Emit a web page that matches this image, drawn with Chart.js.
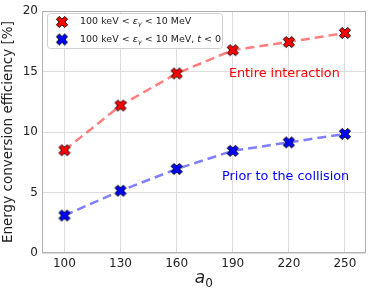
<!DOCTYPE html>
<html>
<head>
<meta charset="utf-8">
<script src="https://cdn.jsdelivr.net/npm/chart.js@4"></script>
<style>
html,body{margin:0;padding:0;background:#fff;}
#wrap{width:374px;height:291px;}
</style>
</head>
<body>
<div id="wrap"><canvas id="c" width="374" height="291"></canvas></div>
<script>
const a0 = [100, 130, 160, 190, 220, 250];
const entireInteraction = [8.5, 12.2, 14.85, 16.78, 17.45, 18.2];
const priorToCollision = [3.1, 5.15, 6.95, 8.45, 9.15, 9.85];
const xTicks = [100, 130, 160, 190, 220, 250];
const yTicks = [0, 5, 10, 15, 20];
const seriesNames = ['Entire interaction', 'Prior to the collision'];

function makeX(fill) {
  const s = 16;
  const c = document.createElement('canvas');
  c.width = s; c.height = s;
  const g = c.getContext('2d');
  const L = 5.9, w = 2.0;
  const pts = [[-w,-L],[w,-L],[w,-w],[L,-w],[L,w],[w,w],[w,L],[-w,L],[-w,w],[-L,w],[-L,-w],[-w,-w]];
  g.translate(s/2, s/2);
  g.rotate(Math.PI/4);
  g.beginPath();
  pts.forEach((p,i)=> i? g.lineTo(p[0],p[1]) : g.moveTo(p[0],p[1]));
  g.closePath();
  g.fillStyle = fill; g.fill();
  g.lineWidth = 0.9; g.strokeStyle = '#000'; g.stroke();
  return c;
}
const redX = makeX('#ff0000');
const blueX = makeX('#0000ff');

const FONT = '"DejaVu Sans", sans-serif';

const framePlugin = {
  id: 'frame',
  beforeDatasetsDraw(chart) {
    const {ctx, chartArea:a} = chart;
    ctx.save();
    ctx.strokeStyle = '#b0b0b0';
    ctx.lineWidth = 1;
    ctx.strokeRect(Math.round(a.left)+0.5, Math.round(a.top)+0.5, Math.round(a.right-a.left)-1, Math.round(a.bottom-a.top)-1);
    ctx.restore();
  },
  afterDraw(chart) {
    const {ctx, chartArea:a, scales} = chart;
    ctx.save();
    // annotations
    ctx.textAlign = 'center'; ctx.textBaseline = 'middle';
    ctx.font = '12.8px ' + FONT;
    ctx.fillStyle = '#ff0000';
    ctx.fillText(seriesNames[0], scales.x.getPixelForValue(217.6), scales.y.getPixelForValue(14.85));
    ctx.fillStyle = '#0000ff';
    ctx.fillText(seriesNames[1], scales.x.getPixelForValue(218.3), scales.y.getPixelForValue(6.3));

    // legend
    const lx = 47, ly = 13, lw = 175, lh = 35;
    ctx.beginPath();
    if (ctx.roundRect) ctx.roundRect(lx+0.5, ly+0.5, lw, lh, 3); else ctx.rect(lx+0.5, ly+0.5, lw, lh);
    ctx.fillStyle = 'rgba(255,255,255,0.85)'; ctx.fill();
    ctx.strokeStyle = '#d0d0d0'; ctx.lineWidth = 1; ctx.stroke();
    const rows = [[22, redX], [39.5, blueX]];
    rows.forEach((r, i) => {
      const y = r[0];
      ctx.drawImage(r[1], 62 - 8, y - 8);
      ctx.textAlign = 'left'; ctx.textBaseline = 'middle';
      ctx.fillStyle = '#222';
      let x = 80;
      const seg = (t, f, dy) => { ctx.font = f; ctx.fillText(t, x, y + (dy||0)); x += ctx.measureText(t).width; };
      const n = '9.5px ' + FONT, it = 'oblique 9.5px ' + FONT, sub = 'oblique 6.5px ' + FONT;
      seg('100 keV < ', n);
      seg('\u03b5', it);
      seg('\u03b3', sub, 2.5);
      seg(' < 10 MeV', n);
      if (i === 1) { seg(', ', n); seg('t', it); seg(' < 0', n); }
    });

    // x title a_0
    const cx = (a.left + a.right) / 2;
    ctx.fillStyle = '#222';
    ctx.textBaseline = 'alphabetic';
    ctx.font = 'oblique 17px ' + FONT;
    const wa = ctx.measureText('a').width;
    ctx.font = '12px ' + FONT;
    const w0 = ctx.measureText('0').width;
    let x = cx - (wa + w0) / 2;
    ctx.font = 'oblique 17px ' + FONT; ctx.textAlign = 'left';
    ctx.fillText('a', x, 283);
    ctx.font = '12px ' + FONT;
    ctx.fillText('0', x + wa, 287);
    ctx.restore();
  }
};

new Chart(document.getElementById('c'), {
  type: 'line',
  data: {
    datasets: [
      {
        label: seriesNames[0],
        data: a0.map((v, i) => ({x: v, y: entireInteraction[i]})),
        borderColor: 'rgba(255,0,0,0.5)',
        borderWidth: 2.5,
        borderDash: [9, 5],
        pointStyle: redX,
        pointRadius: 6,
        fill: false
      },
      {
        label: seriesNames[1],
        data: a0.map((v, i) => ({x: v, y: priorToCollision[i]})),
        borderColor: 'rgba(0,0,255,0.5)',
        borderWidth: 2.5,
        borderDash: [9, 5],
        pointStyle: blueX,
        pointRadius: 6,
        fill: false
      }
    ]
  },
  options: {
    responsive: false,
    animation: false,
    devicePixelRatio: 1,
    layout: { padding: { top: 9, right: 5, left: 0, bottom: 0 } },
    plugins: { legend: { display: false }, tooltip: { enabled: false } },
    scales: {
      x: {
        type: 'linear',
        min: 88, max: 261,
        afterBuildTicks(s) { s.ticks = xTicks.map(v => ({value: v})); },
        afterFit(s) { s.height = 38; },
        grid: { color: '#dcdcdc', lineWidth: 1, tickLength: 0, drawTicks: false },
        border: { display: false },
        ticks: { color: '#222', font: { family: FONT, size: 12 }, padding: 4, maxRotation: 0 }
      },
      y: {
        min: 0, max: 20,
        afterBuildTicks(s) { s.ticks = yTicks.map(v => ({value: v})); },
        afterFit(s) { s.width = 42; },
        grid: { color: '#dcdcdc', lineWidth: 1, tickLength: 0, drawTicks: false },
        border: { display: false },
        title: { display: true, text: 'Energy conversion efficiency [%]', color: '#222', font: { family: FONT, size: 13.5 }, padding: { top: 0, bottom: 2 } },
        ticks: { color: '#222', font: { family: FONT, size: 12 }, padding: 4 }
      }
    }
  },
  plugins: [framePlugin]
});
</script>
</body>
</html>
